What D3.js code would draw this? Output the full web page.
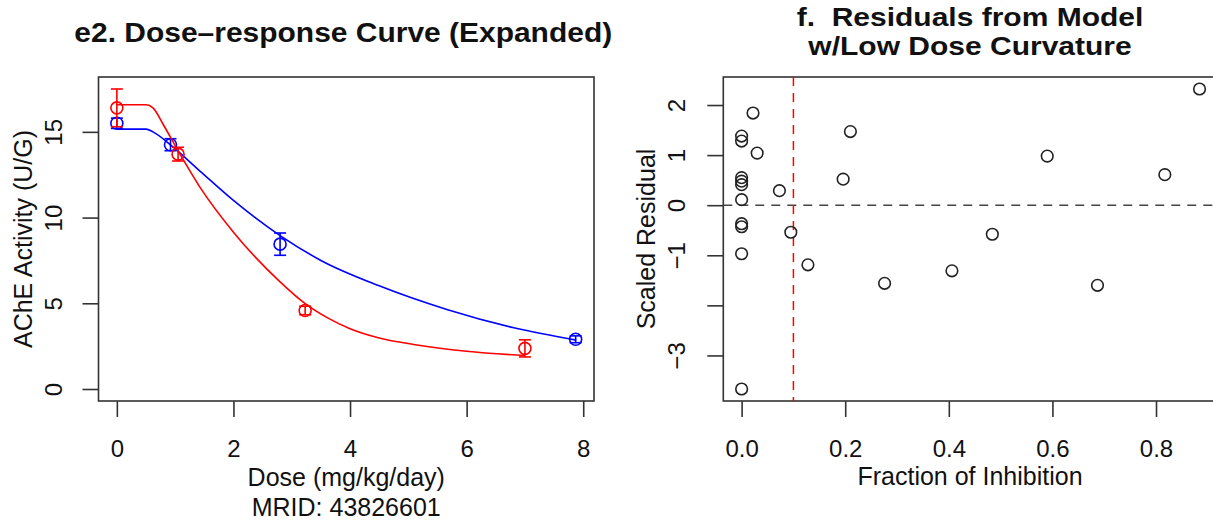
<!DOCTYPE html>
<html><head><meta charset="utf-8">
<script src="https://cdn.jsdelivr.net/npm/d3@7"></script>
<style>
body{margin:0;background:#fff}
svg{display:block}
text{font-family:"Liberation Sans",Arial,Helvetica,sans-serif;fill:#111}
</style></head>
<body><svg id="c" width="1213" height="527"></svg>
<script>
// ---------- Data: panel e2 (dose-response) ----------
const doseBlue = [0, 0.92, 2.8, 7.87];
const meanBlue = [15.5, 14.25, 8.45, 2.9];
const seBlue   = [0.3, 0.35, 0.65, 0.2];
const doseRed  = [0, 1.05, 3.23, 7.0];
const meanRed  = [16.4, 13.7, 4.58, 2.37];
const seRed    = [1.1, 0.4, 0.25, 0.5];
// fitted model curves
const curveDoseBlue = [0, 0.5, 0.62, 0.92, 1.43, 2.0, 2.8, 3.5, 4.5, 5.66, 6.81, 7.88];
const curveActBlue  = [15.16, 15.16, 15.0, 14.24, 12.7, 11.0, 8.95, 7.5, 6.02, 4.64, 3.57, 2.85];
const curveDoseRed  = [0, 0.5, 0.62, 0.8, 1.05, 1.43, 2.0, 2.8, 3.23, 3.6, 4.0, 4.5, 5.09, 6.0, 7.0];
const curveActRed   = [16.58, 16.58, 16.4, 15.4, 13.9, 11.75, 9.15, 6.25, 4.98, 4.18, 3.52, 2.98, 2.6, 2.2, 1.95];
const xTicksE = [0, 2, 4, 6, 8];
const yTicksE = [0, 5, 10, 15];
const yLimE = [0, 17.5];

// ---------- Data: panel f (residuals) ----------
const fracInhib = [0, 0, 0, 0, 0, 0, 0, 0, 0, 0,
  0.022, 0.03, 0.073, 0.095, 0.128, 0.196, 0.21, 0.276, 0.406, 0.484, 0.59, 0.687, 0.817, 0.884];
const scaledResid = [1.38, 1.28, 0.55, 0.48, 0.41, 0.11, -0.37, -0.43, -0.97, -3.67,
  1.84, 1.04, 0.29, -0.54, -1.19, 0.52, 1.47, -1.56, -1.31, -0.58, 0.98, -1.6, 0.61, 2.32];
const xTicksF = [0, 0.2, 0.4, 0.6, 0.8];
const yTicksF = [-3, -2, -1, 0, 1, 2];
const yTickLabelsF = ["\u22123", "", "\u22121", "0", "1", "2"];
const cutoffF = 0.1;

// ---------- Layout ----------
const svg = d3.select("#c");
const pad = ([a, b]) => [a - 0.04 * (b - a), b + 0.04 * (b - a)];
const AX = "#333";

function styleAxis(g) {
  g.attr("font-size", null).attr("font-family", null);
  g.select(".domain").remove();
  g.selectAll(".tick line").attr("stroke", AX).attr("stroke-width", 1.6);
  g.selectAll(".tick text").attr("fill", "#111").style("font-size", "24px");
}

// ===== Panel e2 =====
const PL = {left: 98.5, right: 594, top: 77, bottom: 401};
const xE = d3.scaleLinear().domain(pad([0, d3.max(doseBlue.concat(doseRed))])).range([PL.left, PL.right]);
const yE = d3.scaleLinear().domain(pad(yLimE)).range([PL.bottom, PL.top]);

const gxE = svg.append("g").attr("transform", `translate(0,${PL.bottom})`)
  .call(d3.axisBottom(xE).tickValues(xTicksE).tickSize(16).tickFormat(d3.format("d")));
styleAxis(gxE);
gxE.selectAll(".tick text").attr("y", 56).attr("dy", null);

const gyE = svg.append("g").attr("transform", `translate(${PL.left},0)`)
  .call(d3.axisLeft(yE).tickValues(yTicksE).tickSize(16).tickFormat(d3.format("d")));
styleAxis(gyE);
gyE.selectAll(".tick text").attr("x", null).attr("dy", null).attr("text-anchor", "middle")
  .attr("transform", "translate(-37,0) rotate(-90)");

svg.append("rect").attr("x", PL.left).attr("y", PL.top)
  .attr("width", PL.right - PL.left).attr("height", PL.bottom - PL.top)
  .attr("fill", "none").attr("stroke", AX).attr("stroke-width", 1.6);

const lineE = d3.line().x(d => xE(d[0])).y(d => yE(d[1])).curve(d3.curveMonotoneX);
function drawSeries(cd, ca, dose, mean, se, col) {
  svg.append("path").datum(cd.map((d, i) => [d, ca[i]])).attr("d", lineE)
    .attr("fill", "none").attr("stroke", col).attr("stroke-width", 1.6);
  const g = svg.append("g").attr("stroke", col).attr("stroke-width", 1.6).attr("fill", "none");
  dose.forEach((d, i) => {
    const cx = xE(d), y1 = yE(mean[i] - se[i]), y2 = yE(mean[i] + se[i]);
    g.append("line").attr("x1", cx).attr("x2", cx).attr("y1", y1).attr("y2", y2);
    g.append("line").attr("x1", cx - 6).attr("x2", cx + 6).attr("y1", y1).attr("y2", y1);
    g.append("line").attr("x1", cx - 6).attr("x2", cx + 6).attr("y1", y2).attr("y2", y2);
    g.append("circle").attr("cx", cx).attr("cy", yE(mean[i])).attr("r", 6);
  });
}
drawSeries(curveDoseBlue, curveActBlue, doseBlue, meanBlue, seBlue, "#0000FF");
drawSeries(curveDoseRed, curveActRed, doseRed, meanRed, seRed, "#FF0000");

const cxE = (PL.left + PL.right) / 2;
svg.append("text").attr("text-anchor", "middle").style("font-size", "27px").style("font-weight", "bold")
  .attr("transform", `translate(${cxE - 3},42) scale(1.11,1)`).text("e2. Dose\u2013response Curve (Expanded)");
svg.append("text").attr("x", cxE).attr("y", 486).attr("text-anchor", "middle").style("font-size", "25px")
  .text("Dose (mg/kg/day)");
svg.append("text").attr("x", cxE).attr("y", 516).attr("text-anchor", "middle").style("font-size", "25px")
  .text("MRID: 43826601");
svg.append("text").attr("text-anchor", "middle").style("font-size", "25px")
  .attr("transform", `translate(31.5,${(PL.top + PL.bottom) / 2}) rotate(-90)`).text("AChE Activity (U/G)");

// ===== Panel f =====
const xdomF = pad(d3.extent(fracInhib));
const PR = {left: 723.3, top: 77, bottom: 401};
PR.right = PR.left + (xdomF[1] - xdomF[0]) * 518;
const xF = d3.scaleLinear().domain(xdomF).range([PR.left, PR.right]);
const yF = d3.scaleLinear().domain(pad(d3.extent(scaledResid))).range([PR.bottom, PR.top]);

const gxF = svg.append("g").attr("transform", `translate(0,${PR.bottom})`)
  .call(d3.axisBottom(xF).tickValues(xTicksF).tickSize(16).tickFormat(d3.format(".1f")));
styleAxis(gxF);
gxF.selectAll(".tick text").attr("y", 56).attr("dy", null);

const gyF = svg.append("g").attr("transform", `translate(${PR.left},0)`)
  .call(d3.axisLeft(yF).tickValues(yTicksF).tickSize(16).tickFormat((d, i) => yTickLabelsF[i]));
styleAxis(gyF);
gyF.selectAll(".tick text").attr("x", null).attr("dy", null).attr("text-anchor", "middle")
  .attr("transform", "translate(-38,0) rotate(-90)");

svg.append("rect").attr("x", PR.left).attr("y", PR.top)
  .attr("width", PR.right - PR.left).attr("height", PR.bottom - PR.top)
  .attr("fill", "none").attr("stroke", AX).attr("stroke-width", 1.6);

svg.append("line").attr("x1", PR.left).attr("x2", PR.right).attr("y1", yF(0)).attr("y2", yF(0))
  .attr("stroke", "#444").attr("stroke-width", 1.5).attr("stroke-dasharray", "9,7");
svg.append("line").attr("x1", xF(cutoffF)).attr("x2", xF(cutoffF)).attr("y1", PR.top).attr("y2", PR.bottom)
  .attr("stroke", "#FF0000").attr("stroke-width", 1.5).attr("stroke-dasharray", "9,7");

svg.append("g").selectAll("circle").data(fracInhib.map((f, i) => [f, scaledResid[i]])).join("circle")
  .attr("cx", d => xF(d[0])).attr("cy", d => yF(d[1])).attr("r", 5.8)
  .attr("fill", "none").attr("stroke", "#222").attr("stroke-width", 1.6);

const cxF = 970;
svg.append("text").attr("text-anchor", "middle").style("font-size", "25px").style("font-weight", "bold")
  .style("white-space", "pre").attr("xml:space", "preserve")
  .attr("transform", `translate(${cxF},25.5) scale(1.2,1)`).text("f.  Residuals from Model");
svg.append("text").attr("text-anchor", "middle").style("font-size", "25px").style("font-weight", "bold")
  .attr("transform", `translate(${cxF},54.5) scale(1.2,1)`).text("w/Low Dose Curvature");
svg.append("text").attr("x", cxF).attr("y", 485).attr("text-anchor", "middle").style("font-size", "25px")
  .text("Fraction of Inhibition");
svg.append("text").attr("text-anchor", "middle").style("font-size", "25px")
  .attr("transform", `translate(655,${(PR.top + PR.bottom) / 2}) rotate(-90)`).text("Scaled Residual");
</script></body></html>
